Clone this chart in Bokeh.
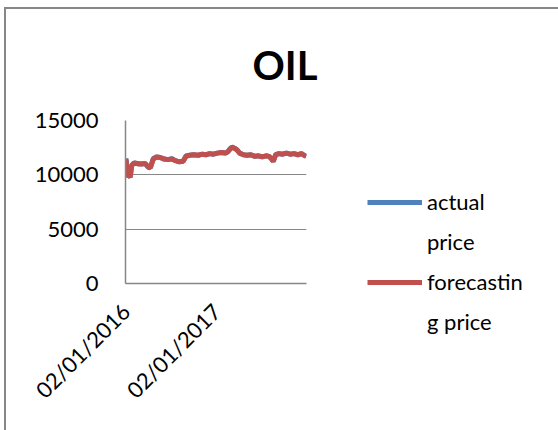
import math
import datetime as dt
from bokeh.plotting import figure
from bokeh.models import (Legend, LegendItem, FixedTicker, DatetimeTickFormatter,
                          Range1d, ColumnDataSource, InlineStyleSheet)
from bokeh.embed import file_html
from bokeh.resources import INLINE

# ---------------- data ----------------
dates = ["2016-01-02", "2016-01-04", "2016-01-08", "2016-01-14", "2016-01-20", "2016-01-26",
         "2016-02-05", "2016-02-20", "2016-03-05", "2016-03-20", "2016-04-01", "2016-04-10",
         "2016-04-22", "2016-05-05", "2016-05-20", "2016-06-05", "2016-06-20", "2016-07-05",
         "2016-07-20", "2016-08-05", "2016-08-20", "2016-09-01", "2016-09-15", "2016-10-01",
         "2016-10-20", "2016-11-05", "2016-11-20", "2016-12-05", "2016-12-20", "2017-01-05",
         "2017-01-20", "2017-02-05", "2017-02-15", "2017-02-25", "2017-03-05", "2017-03-15",
         "2017-03-25", "2017-04-05", "2017-04-20", "2017-05-05", "2017-05-20", "2017-06-05",
         "2017-06-20", "2017-07-05", "2017-07-20", "2017-08-01", "2017-08-10", "2017-08-18",
         "2017-08-28", "2017-09-10", "2017-09-25", "2017-10-10", "2017-10-25", "2017-11-10",
         "2017-11-25", "2017-12-10", "2017-12-20", "2017-12-29"]
actual_price = [11500, 11300, 9800, 10000, 9750, 10900,
                11100, 11050, 11000, 11050, 10700, 10650,
                11500, 11650, 11600, 11450, 11400, 11500,
                11300, 11200, 11250, 11750, 11800, 11850,
                11800, 11900, 11850, 11950, 11900, 12000,
                12050, 12000, 12100, 12400, 12550, 12450,
                12300, 12000, 11850, 11800, 11850, 11700,
                11750, 11650, 11750, 11700, 11500, 11250,
                11850, 11950, 11900, 12000, 11900, 11950,
                11850, 11950, 11800, 11700]
forecasting_price = [11450, 11250, 9850, 9950, 9800, 10850,
                     11100, 11000, 11000, 11050, 10750, 10650,
                     11450, 11650, 11600, 11450, 11400, 11450,
                     11300, 11200, 11250, 11700, 11800, 11850,
                     11800, 11900, 11850, 11950, 11900, 12000,
                     12050, 12000, 12100, 12350, 12550, 12450,
                     12300, 12000, 11850, 11800, 11850, 11700,
                     11750, 11650, 11750, 11700, 11500, 11250,
                     11850, 11950, 11900, 12000, 11900, 11950,
                     11850, 11950, 11800, 11700]
y_ticks = [0, 5000, 10000, 15000]
x_ticks = ["2016-01-02", "2017-01-02"]
# legend labels, wrapped as in the picture
series_label_lines = [["actual", "price"], ["forecastin", "g price"]]
title_text = "OIL"

# ---------------- figure ----------------
def d(s):
    return dt.datetime.strptime(s, "%Y-%m-%d")

src = ColumnDataSource(dict(date=[d(s) for s in dates],
                            actual=actual_price, forecast=forecasting_price))

p = figure(frame_width=181, frame_height=163, x_axis_type="datetime",
           output_backend="svg", toolbar_location=None,
           x_range=Range1d(d("2016-01-01"), d("2017-12-30")),
           y_range=Range1d(0, 15000),
           min_border_left=125, min_border_right=252,
           min_border_top=120, min_border_bottom=147,
           title=title_text)

p.outline_line_color = None
p.background_fill_color = "white"
p.border_fill_color = None

p.title.align = "left"
p.title.offset = 127
p.title.standoff = 64
p.title.text_font = "Lato"
p.title.text_font_style = "bold"
p.title.text_font_size = "40px"
p.title.text_color = "black"

grey = "#868686"
# y axis
p.yaxis.ticker = FixedTicker(ticks=y_ticks)
p.yaxis.axis_line_color = grey
p.yaxis.axis_line_width = 1.5
p.yaxis.major_tick_line_color = None
p.yaxis.minor_tick_line_color = None
p.yaxis.major_tick_out = 0
p.yaxis.major_label_standoff = 27
p.yaxis.major_label_text_font = "Lato"
p.yaxis.major_label_text_font_size = "22px"
p.yaxis.major_label_text_color = "black"

# x axis
p.xaxis.ticker = FixedTicker(ticks=[d(s).timestamp() * 1000 for s in x_ticks])
fmt = "%d/%m/%Y"
p.xaxis.formatter = DatetimeTickFormatter(microseconds=fmt, milliseconds=fmt, seconds=fmt,
                                          minsec=fmt, minutes=fmt, hourmin=fmt, hours=fmt,
                                          days=fmt, months=fmt, years=fmt)
p.xaxis.major_label_orientation = math.pi / 4
p.xaxis.axis_line_color = grey
p.xaxis.axis_line_width = 1.5
p.xaxis.major_tick_line_color = None
p.xaxis.minor_tick_line_color = None
p.xaxis.major_tick_out = 0
p.xaxis.major_label_standoff = 24
p.xaxis.major_label_text_font = "Lato"
p.xaxis.major_label_text_font_size = "22px"
p.xaxis.major_label_text_color = "black"

p.xgrid.visible = False
p.ygrid.grid_line_color = grey
p.ygrid.grid_line_width = 1.2

r1 = p.line("date", "actual", source=src, line_color="#4F81BD", line_width=5)
r2 = p.line("date", "forecast", source=src, line_color="#C0504D", line_width=5)
# invisible renderers that only carry the wrapped second line of each legend label
w1 = p.line(x=[], y=[], line_alpha=0)
w2 = p.line(x=[], y=[], line_alpha=0)

legend = Legend(items=[LegendItem(label=series_label_lines[0][0], renderers=[r1]),
                       LegendItem(label=series_label_lines[0][1], renderers=[w1]),
                       LegendItem(label=series_label_lines[1][0], renderers=[r2]),
                       LegendItem(label=series_label_lines[1][1], renderers=[w2])],
                location=(61, -55), orientation="vertical",
                padding=0, margin=0, spacing=7,
                glyph_width=55, glyph_height=20, label_height=33, label_standoff=5,
                label_text_font="Lato", label_text_font_size="22px",
                label_text_color="black",
                border_line_color=None, background_fill_alpha=0)
p.add_layout(legend, "right")

p.stylesheets = [InlineStyleSheet(css=(
    ":host { background-color: white;"
    " background-image: linear-gradient(#878787, #878787), linear-gradient(#878787, #878787);"
    " background-position: 4px 7px, 4px 7px;"
    " background-size: 2px 100%, 100% 2px;"
    " background-repeat: no-repeat; }"))]

open("out.html", "w").write(file_html(p, INLINE))
